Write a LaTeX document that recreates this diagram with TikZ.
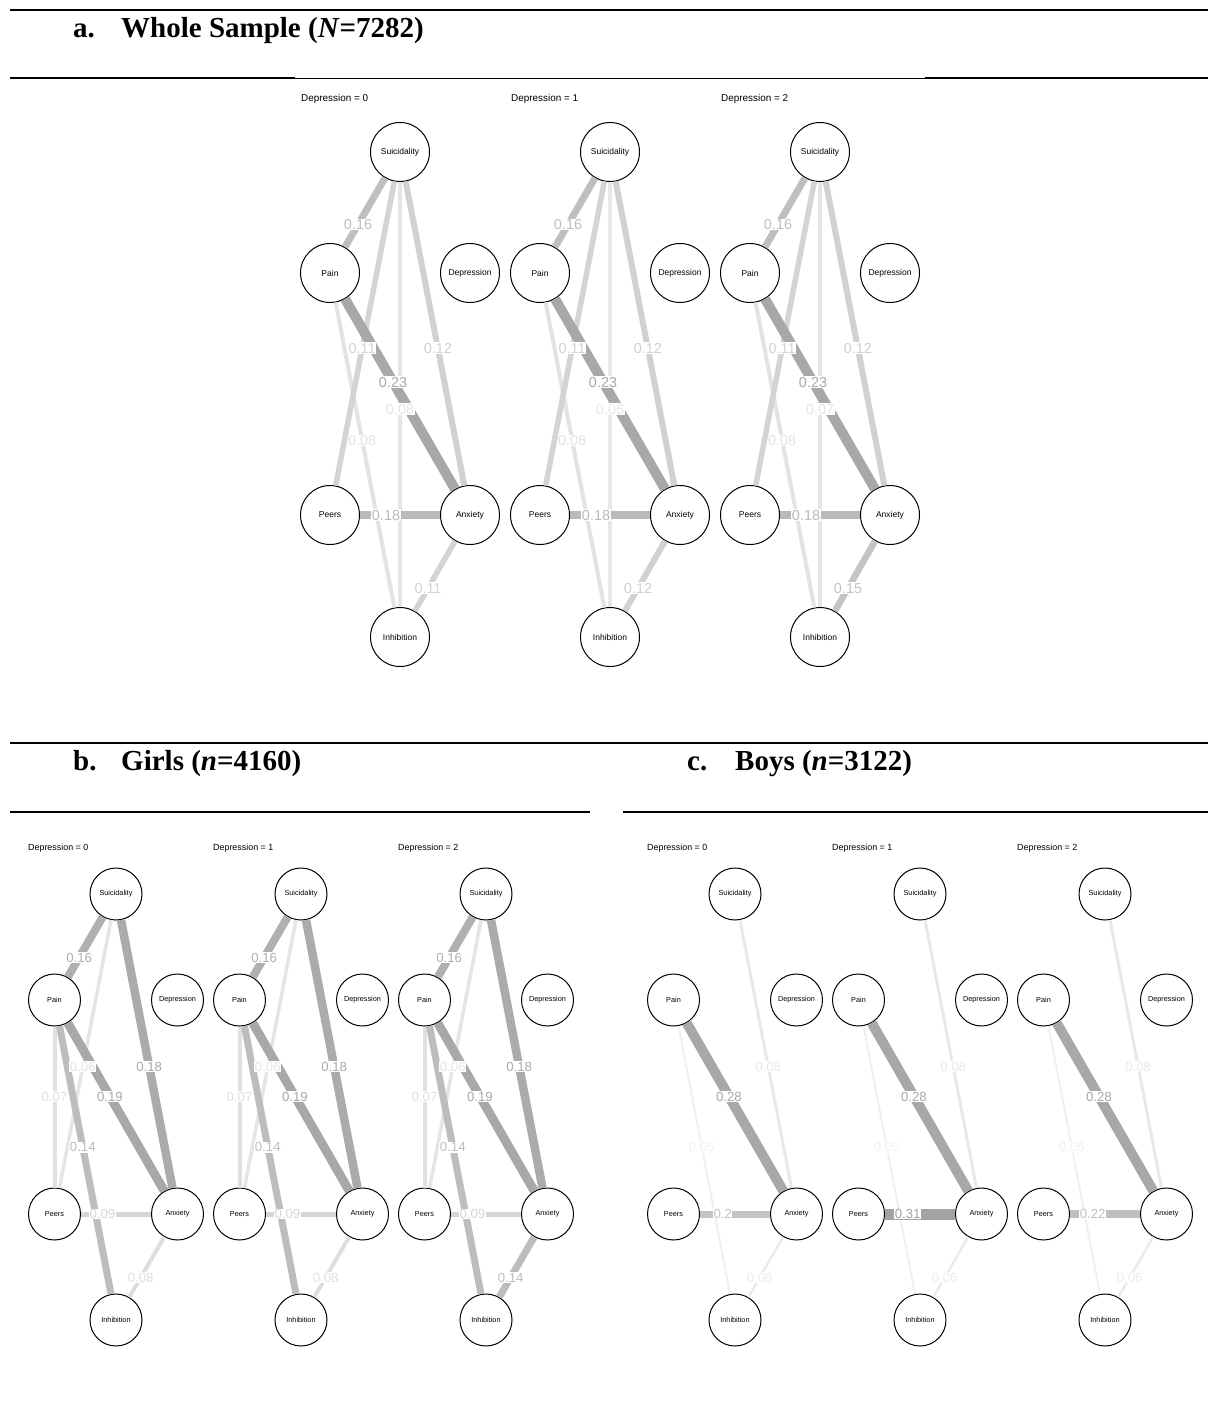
\documentclass[tikz,border=0pt]{standalone}
\usepackage{fontspec}
\setmainfont{Liberation Serif}
\newfontfamily\hv{Liberation Sans}
\usepackage{etoolbox}
\usetikzlibrary{calc}

\newcommand\labellist{}
% from, to, black percent, width, label, position
\newcommand\netE[6]{%
  \draw[line width=#4, black!#3] (#1) -- (#2);
  \gappto\labellist{\node[elabel, text=black!#3] at ($(#1)!#6!(#2)$) {#5};}%
}
\newcommand\flushlabels{\labellist\gdef\labellist{}}
% prefix, sx, sy, dx, dy1, dy2, dy3, style
\newcommand\netN[8]{%
  \node[#8] (#1S) at (#2,#3) {Suicidality};
  \node[#8] (#1P) at ({#2-#4},{#3+#5}) {Pain};
  \node[#8] (#1D) at ({#2+#4},{#3+#5}) {Depression};
  \node[#8] (#1R) at ({#2-#4},{#3+#6}) {Peers};
  \node[#8] (#1A) at ({#2+#4},{#3+#6}) {Anxiety};
  \node[#8] (#1I) at (#2,{#3+#7}) {Inhibition};
}

\begin{document}
\begin{tikzpicture}[x=1pt,y=-1pt,
  nodeA/.style={circle, draw=black, line width=1pt, fill=white, minimum size=59pt, inner sep=0pt, font=\hv\fontsize{8.5}{10}\selectfont},
  nodeB/.style={circle, draw=black, line width=1pt, fill=white, minimum size=52pt, inner sep=0pt, font=\hv\fontsize{7.3}{9}\selectfont},
  elabA/.style={fill=white, inner sep=0.6pt, text height=10.4pt, text depth=0pt, font=\hv\fontsize{14.4}{16}\selectfont},
  elabB/.style={fill=white, inner sep=0.6pt, text height=9.5pt, text depth=0pt, font=\hv\fontsize{13.2}{15}\selectfont},
  headA/.style={anchor=base west, inner sep=0pt, font=\hv\fontsize{9.9}{12}\selectfont},
  headB/.style={anchor=base west, inner sep=0pt, font=\hv\fontsize{8.9}{11}\selectfont},
  title/.style={anchor=base west, inner sep=0pt, font=\bfseries\fontsize{29}{34}\selectfont},
  thickrule/.style={line width=2pt},
  thinrule/.style={line width=1pt}]

\useasboundingbox (0,0) rectangle (1208,1421);
\fill[white] (0,0) rectangle (1208,1421);

% ---------- rules and titles ----------
\draw[thickrule] (10,10) -- (1208,10);
\draw[thickrule] (10,78) -- (295,78);
\draw[thinrule] (295,78) -- (925,78);
\draw[thickrule] (925,78) -- (1208,78);
\node[title] (ta1) at (73,37.5) {a.};
\node[title] (ta2) at (121,37.5) {Whole Sample (\textit{N}=7282)};

\draw[thickrule] (10,743) -- (1208,743);
\draw[thickrule] (10,812) -- (590,812);
\draw[thickrule] (623,812) -- (1208,812);
\node[title] (tb1) at (73,770) {b.};
\node[title] (tb2) at (121,770) {Girls (\textit{n}=4160)};
\node[title] (tc1) at (687,770) {c.};
\node[title] (tc2) at (735,770) {Boys (\textit{n}=3122)};

% ---------- section a ----------
\tikzset{elabel/.style={elabA}}
\node[headA] (a0h) at (301,101.5) {Depression = 0};
\node[headA] (a1h) at (511,101.5) {Depression = 1};
\node[headA] (a2h) at (721,101.5) {Depression = 2};

\netN{a0}{400}{152}{70}{121}{363}{485}{nodeA}
\netN{a1}{610}{152}{70}{121}{363}{485}{nodeA}
\netN{a2}{820}{152}{70}{121}{363}{485}{nodeA}

% panel a0
\netE{a0S}{a0I}{10}{4}{0.08}{0.53}
\netE{a0P}{a0I}{11}{4}{0.08}{0.46}
\netE{a0S}{a0R}{17}{5.5}{0.11}{0.54}
\netE{a0A}{a0I}{17}{5.5}{0.11}{0.6}
\netE{a0S}{a0A}{18}{6}{0.12}{0.54}
\netE{a0S}{a0P}{25}{7}{0.16}{0.6}
\netE{a0R}{a0A}{27}{8}{0.18}{0.4}
\netE{a0P}{a0A}{34}{10}{0.23}{0.45}
\flushlabels
% panel a1
\netE{a1S}{a1I}{9}{3.5}{0.06}{0.53}
\netE{a1P}{a1I}{11}{4}{0.08}{0.46}
\netE{a1S}{a1R}{17}{5.5}{0.11}{0.54}
\netE{a1A}{a1I}{18}{6}{0.12}{0.6}
\netE{a1S}{a1A}{18}{6}{0.12}{0.54}
\netE{a1S}{a1P}{25}{7}{0.16}{0.6}
\netE{a1R}{a1A}{27}{8}{0.18}{0.4}
\netE{a1P}{a1A}{34}{10}{0.23}{0.45}
\flushlabels
% panel a2
\netE{a2S}{a2I}{10}{4}{0.07}{0.53}
\netE{a2P}{a2I}{11}{4}{0.08}{0.46}
\netE{a2S}{a2R}{17}{5.5}{0.11}{0.54}
\netE{a2S}{a2A}{18}{6}{0.12}{0.54}
\netE{a2A}{a2I}{23}{6.5}{0.15}{0.6}
\netE{a2S}{a2P}{25}{7}{0.16}{0.6}
\netE{a2R}{a2A}{27}{8}{0.18}{0.4}
\netE{a2P}{a2A}{34}{10}{0.23}{0.45}
\flushlabels

% ---------- sections b and c ----------
\tikzset{elabel/.style={elabB}}
\node[headB] (b0h) at (28,850) {Depression = 0};
\node[headB] (b1h) at (213,850) {Depression = 1};
\node[headB] (b2h) at (398,850) {Depression = 2};
\node[headB] (c0h) at (647,850) {Depression = 0};
\node[headB] (c1h) at (832,850) {Depression = 1};
\node[headB] (c2h) at (1017,850) {Depression = 2};

\netN{b0}{116}{894}{61.5}{106}{320}{426}{nodeB}
\netN{b1}{301}{894}{61.5}{106}{320}{426}{nodeB}
\netN{b2}{486}{894}{61.5}{106}{320}{426}{nodeB}
\netN{c0}{735}{894}{61.5}{106}{320}{426}{nodeB}
\netN{c1}{920}{894}{61.5}{106}{320}{426}{nodeB}
\netN{c2}{1105}{894}{61.5}{106}{320}{426}{nodeB}

% panel b0
\netE{b0S}{b0R}{10}{3.5}{0.06}{0.54}
\netE{b0P}{b0R}{12}{4}{0.07}{0.45}
\netE{b0A}{b0I}{13}{4}{0.08}{0.6}
\netE{b0R}{b0A}{16}{5}{0.09}{0.39}
\netE{b0P}{b0I}{26}{7}{0.14}{0.46}
\netE{b0S}{b0P}{31}{8}{0.16}{0.6}
\netE{b0S}{b0A}{33}{8.5}{0.18}{0.54}
\netE{b0P}{b0A}{34}{9}{0.19}{0.45}
\flushlabels
% panel b1
\netE{b1S}{b1R}{10}{3.5}{0.06}{0.54}
\netE{b1P}{b1R}{12}{4}{0.07}{0.45}
\netE{b1A}{b1I}{13}{4}{0.08}{0.6}
\netE{b1R}{b1A}{16}{5}{0.09}{0.39}
\netE{b1P}{b1I}{26}{7}{0.14}{0.46}
\netE{b1S}{b1P}{31}{8}{0.16}{0.6}
\netE{b1S}{b1A}{33}{8.5}{0.18}{0.54}
\netE{b1P}{b1A}{34}{9}{0.19}{0.45}
\flushlabels
% panel b2
\netE{b2S}{b2R}{10}{3.5}{0.06}{0.54}
\netE{b2P}{b2R}{12}{4}{0.07}{0.45}
\netE{b2R}{b2A}{16}{5}{0.09}{0.39}
\netE{b2A}{b2I}{26}{7}{0.14}{0.6}
\netE{b2P}{b2I}{26}{7}{0.14}{0.46}
\netE{b2S}{b2P}{31}{8}{0.16}{0.6}
\netE{b2S}{b2A}{33}{8.5}{0.18}{0.54}
\netE{b2P}{b2A}{34}{9}{0.19}{0.45}
\flushlabels
% panel c0
\netE{c0P}{c0I}{6}{2}{0.05}{0.46}
\netE{c0A}{c0I}{8}{2.5}{0.06}{0.6}
\netE{c0S}{c0A}{9}{3}{0.08}{0.54}
\netE{c0R}{c0A}{23}{7}{0.2}{0.4}
\netE{c0P}{c0A}{34}{10}{0.28}{0.45}
\flushlabels
% panel c1
\netE{c1P}{c1I}{6}{2}{0.05}{0.46}
\netE{c1A}{c1I}{8}{2.5}{0.06}{0.6}
\netE{c1S}{c1A}{9}{3}{0.08}{0.54}
\netE{c1P}{c1A}{34}{10}{0.28}{0.45}
\netE{c1R}{c1A}{36}{11}{0.31}{0.4}
\flushlabels
% panel c2
\netE{c2P}{c2I}{6}{2}{0.05}{0.46}
\netE{c2A}{c2I}{8}{2.5}{0.06}{0.6}
\netE{c2S}{c2A}{9}{3}{0.08}{0.54}
\netE{c2R}{c2A}{25}{8}{0.22}{0.4}
\netE{c2P}{c2A}{34}{10}{0.28}{0.45}
\flushlabels

\end{tikzpicture}
\end{document}
